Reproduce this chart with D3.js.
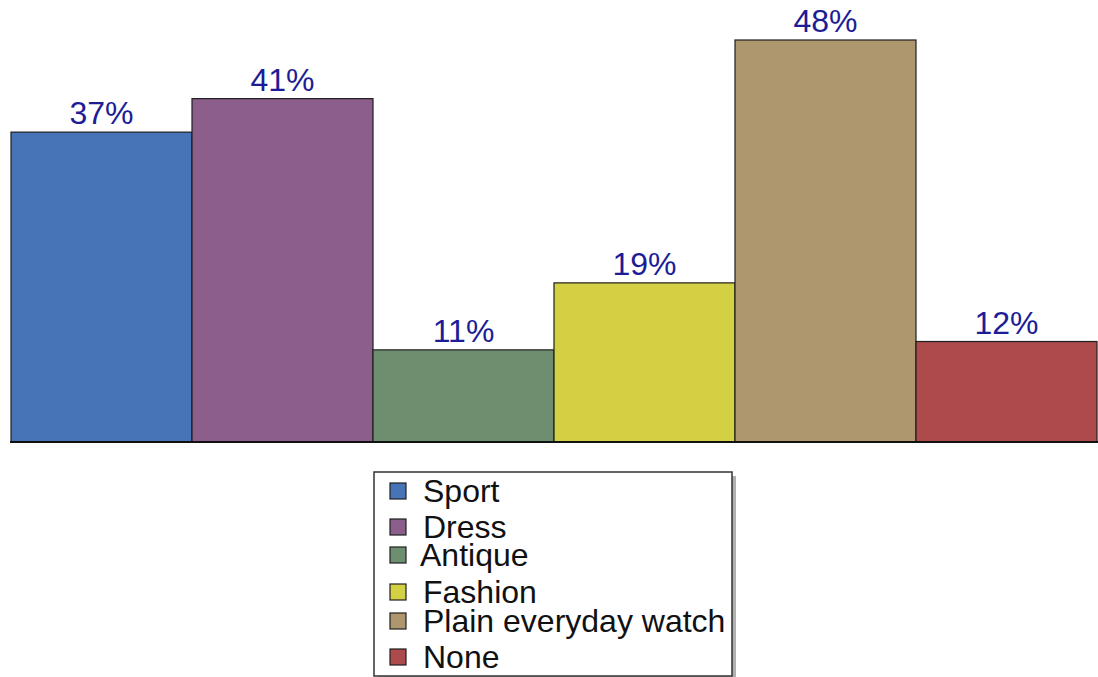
<!DOCTYPE html>
<html>
<head>
<meta charset="utf-8">
<script src="https://cdn.jsdelivr.net/npm/d3@7"></script>
<style>
  html, body { margin: 0; padding: 0; background: #fff; }
  svg { display: block; font-family: "Liberation Sans", Arial, sans-serif; }
</style>
</head>
<body>
<svg id="chart" width="1098" height="677"></svg>
<script>
// Watch preference survey
const categories = ["Sport", "Dress", "Antique", "Fashion", "Plain everyday watch", "None"];
const values = [37, 41, 11, 19, 48, 12];
const colors = ["#4674b6", "#8b5e8c", "#6e8f6f", "#d3d044", "#ae966e", "#ad4a4b"];

const svg = d3.select("#chart");
const left = 11, right = 1097, baseY = 442, topY = 40;

const x = d3.scaleBand().domain(categories).range([left, right]).padding(0);
const y = d3.scaleLinear().domain([0, 48]).range([baseY, topY]);

// bars
svg.append("g").selectAll("rect")
  .data(categories)
  .join("rect")
  .attr("x", d => x(d))
  .attr("y", (d, i) => y(values[i]))
  .attr("width", x.bandwidth())
  .attr("height", (d, i) => baseY - y(values[i]))
  .attr("fill", (d, i) => colors[i])
  .attr("stroke", "#1e1e1e")
  .attr("stroke-width", 1.2);

// baseline
svg.append("line")
  .attr("x1", left - 1).attr("x2", right + 1)
  .attr("y1", baseY).attr("y2", baseY)
  .attr("stroke", "#111").attr("stroke-width", 2);

// value labels
svg.append("g").selectAll("text")
  .data(categories)
  .join("text")
  .attr("x", d => x(d) + x.bandwidth() / 2)
  .attr("y", (d, i) => y(values[i]) - 8)
  .attr("text-anchor", "middle")
  .attr("font-size", 32)
  .attr("fill", "#1c1c96")
  .text((d, i) => values[i] + "%");

// legend
const lg = svg.append("g");
const lx = 374, ly = 472, lw = 358, lh = 204;
lg.append("rect").attr("x", lx + 4).attr("y", ly + 4).attr("width", lw).attr("height", lh)
  .attr("fill", "#b0b0b0");
lg.append("rect").attr("x", lx).attr("y", ly).attr("width", lw).attr("height", lh)
  .attr("fill", "#fff").attr("stroke", "#333").attr("stroke-width", 1.5);

const rowY = [491, 527, 555, 592, 621, 657];
const textX = [423, 423, 420, 423, 423, 423];
categories.forEach((c, i) => {
  lg.append("rect")
    .attr("x", 390).attr("y", rowY[i] - 8)
    .attr("width", 16).attr("height", 16)
    .attr("fill", colors[i]).attr("stroke", "#1e1e1e").attr("stroke-width", 1.2);
  lg.append("text")
    .attr("x", textX[i]).attr("y", rowY[i] + 11)
    .attr("font-size", 32)
    .attr("fill", "#111")
    .text(c);
});
</script>
</body>
</html>
